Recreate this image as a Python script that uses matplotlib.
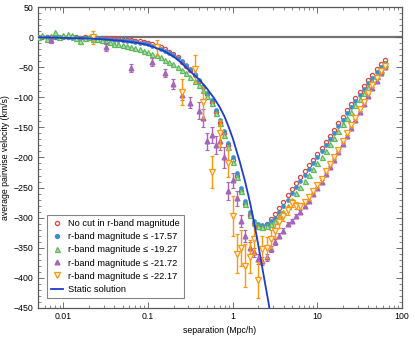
import matplotlib
matplotlib.use("Agg")
import matplotlib.pyplot as plt
from matplotlib.ticker import MultipleLocator, LogLocator, FixedLocator, FixedFormatter, NullFormatter
from matplotlib.lines import Line2D

plt.rcParams['font.family'] = ['Liberation Sans', 'DejaVu Sans']

# separation bin centres (Mpc/h)
sep = [0.005012, 0.005623, 0.006310, 0.007079, 0.007943, 0.008913,
       0.01, 0.01122, 0.01259, 0.01413, 0.01585, 0.01778, 0.01995, 0.02239, 0.02512, 0.02818,
       0.03162, 0.03548, 0.03981, 0.04467, 0.05012, 0.05623, 0.06310, 0.07079, 0.07943, 0.08913,
       0.1, 0.1122, 0.1259, 0.1413, 0.1585, 0.1778, 0.1995, 0.2239, 0.2512, 0.2818,
       0.3162, 0.3548, 0.3981, 0.4467, 0.5012, 0.5623, 0.6310, 0.7079, 0.7943, 0.8913,
       1.0, 1.122, 1.259, 1.413, 1.585, 1.778, 1.995, 2.239, 2.512, 2.818,
       3.162, 3.548, 3.981, 4.467, 5.012, 5.623, 6.310, 7.079, 7.943, 8.913,
       10.0, 11.22, 12.59, 14.13, 15.85, 17.78, 19.95, 22.39, 25.12, 28.18,
       31.62, 35.48, 39.81, 44.67, 50.12, 56.23, 63.10]

v_nocut = [0, 0, 1, 0, 1, 0,
           0, 1, 0, 0, -1, 0, -1, -1, -1, -2,
           -2, -2, -3, -3, -4, -5, -5, -6, -7, -8,
           -10, -12, -14, -17, -20, -24, -28, -33, -41, -47,
           -55, -63, -73, -83, -94, -108, -124, -142, -160, -180,
           -204, -230, -255, -278, -296, -310, -316, -315, -311, -303,
           -294, -284, -274, -263, -253, -243, -233, -223, -213, -204,
           -194, -184, -174, -164, -154, -143, -132, -121, -111, -101,
           -91, -81, -71, -62, -53, -45, -37]

v_1757 = [0, 0, 0, -1, 0, 1,
          0, 0, -1, 0, -1, -1, -1, -2, -2, -2,
          -3, -3, -4, -4, -5, -6, -7, -8, -9, -10,
          -12, -14, -16, -19, -22, -26, -30, -35, -40, -46,
          -53, -61, -71, -81, -92, -105, -121, -138, -156, -176,
          -200, -226, -250, -272, -291, -305, -311, -312, -310, -306,
          -300, -291, -281, -270, -259, -249, -239, -229, -219, -209,
          -199, -189, -179, -169, -159, -148, -137, -126, -116, -106,
          -96, -86, -76, -67, -58, -50, -42]

v_1927 = [0, 3, -3, 2, 9, 0,
          3, 5, 4, -1, -6, -1, 0, -3, -3, -5,
          -7, -8, -11, -12, -13, -14, -16, -18, -20, -22,
          -25, -27, -30, -33, -37, -41, -45, -50, -55, -60,
          -66, -72, -79, -87, -97, -110, -126, -143, -162, -183,
          -207, -232, -256, -278, -296, -308, -314, -315, -314, -310,
          -305, -298, -290, -280, -270, -259, -249, -239, -229, -219,
          -209, -199, -189, -178, -167, -156, -145, -134, -124, -113,
          -103, -93, -83, -73, -64, -55, -45]

sep_2172 = [0.007079, 0.03162, 0.06310, 0.1122, 0.1585, 0.1995, 0.2512, 0.3162, 0.3981, 0.4467,
            0.5012, 0.5623, 0.6310, 0.7079, 0.7943, 0.8913, 1.0, 1.122, 1.259, 1.413,
            1.585, 1.778, 1.995, 2.239, 2.512, 2.818, 3.162, 3.548, 3.981, 4.467,
            5.012, 5.623, 6.310, 7.079, 7.943, 8.913, 10.0, 11.22, 12.59, 14.13,
            15.85, 17.78, 19.95, 22.39, 25.12, 28.18, 31.62, 35.48, 39.81, 44.67,
            50.12, 56.23, 63.10]
v_2172 = [-5, -16, -51, -41, -59, -78, -96, -109, -122, -134,
          -173, -163, -180, -172, -200, -255, -238, -268, -305, -330,
          -350, -358, -369, -372, -366, -352, -341, -330, -322, -311,
          -305, -297, -290, -280, -272, -261, -251, -240, -228, -216,
          -204, -191, -178, -165, -151, -138, -124, -111, -97, -85,
          -72, -60, -50]
e_2172 = [4, 7, 7, 7, 7, 8, 9, 9, 14, 15,
          14, 13, 15, 15, 17, 15, 12, 12, 10, 10,
          10, 8, 8, 7, 6, 5, 5, 4, 4, 3,
          3, 3, 3, 2, 2, 2, 2, 2, 2, 2,
          2, 2, 2, 2, 2, 2, 2, 2, 2, 2,
          2, 2, 2]

sep_2217 = [0.02239, 0.1259, 0.2512, 0.3548, 0.4467, 0.5623, 0.7079, 0.8913,
            1.0, 1.122, 1.259, 1.413, 1.585, 1.778, 1.995, 2.239, 2.512, 2.818,
            3.162, 3.548, 3.981, 4.467, 5.012, 5.623, 6.310, 7.079, 7.943, 8.913,
            10.0, 11.22, 12.59, 14.13, 15.85, 17.78, 19.95, 22.39, 25.12, 28.18,
            31.62, 35.48, 39.81, 44.67, 50.12, 56.23, 63.10]
v_2217 = [0, -17, -91, -52, -108, -224, -160, -210,
          -297, -360, -350, -380, -365, -336, -404, -352, -350, -336,
          -322, -308, -297, -288, -276, -280, -280, -274, -266, -255,
          -246, -235, -223, -211, -199, -187, -173, -160, -146, -134,
          -120, -107, -92, -80, -68, -56, -47]
e_2217 = [11, 13, 21, 22, 27, 26, 22, 22,
          33, 32, 30, 36, 28, 25, 30, 22, 18, 15,
          12, 10, 8, 8, 7, 6, 5, 4, 4, 3,
          3, 2, 2, 2, 2, 2, 2, 2, 2, 2,
          2, 2, 2, 2, 2, 2, 2]

static_sep = [0.005, 0.01, 0.02, 0.03, 0.05, 0.08, 0.1, 0.15, 0.2, 0.25, 0.3, 0.4, 0.5, 0.6,
              0.7, 0.8, 0.9, 1.0, 1.2, 1.4, 1.6, 1.8, 2.0, 2.2, 2.4, 2.6, 2.8]
static_v = [0, -1, -2, -3.5, -6, -10, -13, -22, -32, -43, -54, -70, -86, -101,
            -116, -132, -150, -168, -205, -240, -275, -310, -345, -378, -408, -435, -462]

labels = ["No cut in r-band magnitude", "r-band magnitude \u2264 -17.57",
          "r-band magnitude \u2264 -19.27", "r-band magnitude \u2264 -21.72",
          "r-band magnitude \u2264 -22.17", "Static solution"]

c_red = '#e8413c'
c_blue = '#3a8fcb'
c_green = '#5cb85a'
c_purple = '#a765b8'
c_orange = '#ff980f'
c_static = '#1f3ccc'

fig = plt.figure(figsize=(4.15, 3.38), dpi=100)
ax = fig.add_axes([0.0916, 0.0896, 0.877, 0.889])

ax.axhline(0, color='0.45', lw=1.6, zorder=1)

ax.plot(sep, v_nocut, 'o', ms=3.0, mfc='none', mec=c_red, mew=0.9, zorder=3)
ax.plot(sep, v_1757, 'o', ms=2.8, mfc=c_blue, mec=c_blue, mew=0.5, zorder=4)
ax.plot(sep, v_1927, '^', ms=3.6, mfc='#b5dfb0', mec=c_green, mew=0.9, zorder=5)
ax.errorbar(sep_2172, v_2172, yerr=e_2172, fmt='^', ms=3.4, mfc=c_purple, mec=c_purple,
            ecolor=c_purple, elinewidth=1.0, capsize=1.5, capthick=0.8, zorder=6)
ax.errorbar(sep_2217, v_2217, yerr=e_2217, fmt='v', ms=3.8, mfc='#fff3e0', mec=c_orange, mew=0.9,
            ecolor=c_orange, elinewidth=1.0, capsize=1.5, capthick=0.8, zorder=7)
ax.plot(static_sep, static_v, '-', color=c_static, lw=1.3, zorder=8)

ax.set_xscale('log')
ax.set_xlim(0.005, 100)
ax.set_ylim(-450, 50)
ax.xaxis.set_major_locator(FixedLocator([0.01, 0.1, 1, 10, 100]))
ax.xaxis.set_major_formatter(FixedFormatter(['0.01', '0.1', '1', '10', '100']))
ax.xaxis.set_minor_locator(LogLocator(base=10, subs=range(2, 10), numticks=20))
ax.xaxis.set_minor_formatter(NullFormatter())
ax.yaxis.set_major_locator(MultipleLocator(50))
ax.yaxis.set_minor_locator(MultipleLocator(10))

ax.tick_params(which='both', direction='in', top=True, right=True, labelsize=6.3, color='0.35')
ax.tick_params(which='major', length=4, width=0.6, pad=3)
ax.tick_params(which='minor', length=2, width=0.5)
for s in ax.spines.values():
    s.set_color('0.35')
    s.set_linewidth(0.9)

ax.set_xlabel('separation (Mpc/h)', fontsize=6.3, labelpad=4)
ax.set_ylabel('average pairwise velocity (km/s)', fontsize=6.3, labelpad=3)

handles = [
    Line2D([], [], ls='none', marker='o', ms=3.0, mfc='none', mec=c_red, mew=0.9),
    Line2D([], [], ls='none', marker='o', ms=2.8, mfc=c_blue, mec=c_blue),
    Line2D([], [], ls='none', marker='^', ms=3.6, mfc='#b5dfb0', mec=c_green, mew=0.9),
    Line2D([], [], ls='none', marker='^', ms=3.4, mfc=c_purple, mec=c_purple),
    Line2D([], [], ls='none', marker='v', ms=3.8, mfc='#fff3e0', mec=c_orange, mew=0.9),
    Line2D([], [], color=c_static, lw=1.3),
]
leg = ax.legend(handles, labels, loc='lower left', bbox_to_anchor=(0.012, 0.018), fontsize=6.7,
                frameon=True, fancybox=False, edgecolor='0.4', handlelength=1.3,
                handletextpad=0.6, borderpad=0.4, labelspacing=0.45)
leg.get_frame().set_linewidth(0.8)
leg.set_zorder(10)

fig.savefig('out.png', dpi=100)
